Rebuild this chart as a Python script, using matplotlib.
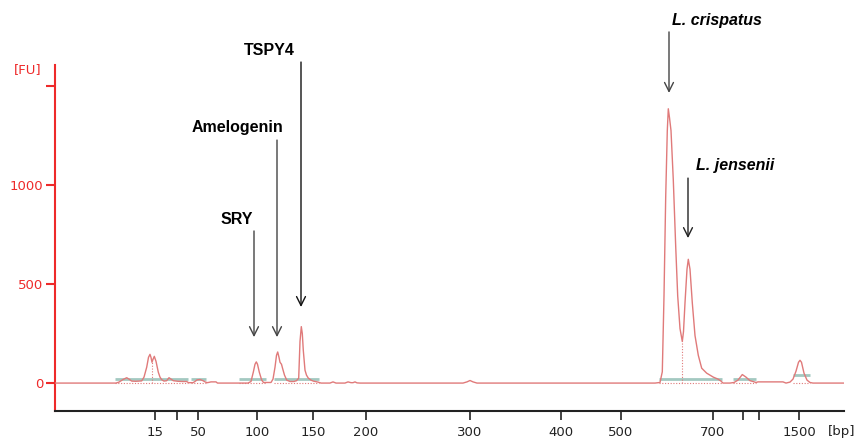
import matplotlib
matplotlib.use("Agg")
import numpy as np
import matplotlib.pyplot as plt

# electropherogram trace: migration position vs fluorescence units
mig_time = [55, 116, 119, 123, 126.7, 129, 131.7, 136, 141.7, 144, 146.7, 148.5, 150, 151, 152, 153,
            154.3, 156, 158.3, 160, 161.7, 164, 166.7, 169, 171, 173.3, 178, 183, 186.7, 188.5,
            193, 195, 197, 200, 203, 205.5, 207.5, 210, 211, 216, 217.5,
            248, 251, 253.3, 255, 256.3, 257.5, 259.3, 261.7, 263.5,
            271, 273, 275, 276.5, 277.7, 279, 280, 281.5, 282.7, 284.5, 286.7, 290,
            294, 296.5, 298.7, 300, 301.3, 302.3, 303.3, 305, 306.5, 308.3, 311, 313.3, 318, 321,
            330, 333, 336, 345, 348, 351, 353, 355, 357, 360,
            463, 467, 470, 473, 477,
            655, 660, 662.3, 664, 665.7, 667.3, 668.3, 669.5, 671, 673.3, 675.7, 677.7, 680, 682.3,
            683.5, 685, 687, 688.3, 690, 692.3, 695, 698.3, 701.7, 706.7, 713.3, 718, 721, 723,
            730, 734, 738, 742.3, 746, 750, 753, 756, 758, 783, 786,
            790, 793, 796, 798.5, 800, 801.5, 804, 807, 810, 813, 844]
fu = [0, 0, 5, 18, 27, 20, 10, 9, 11, 30, 80, 130, 145, 130, 105, 120,
      135, 110, 55, 30, 17, 10, 12, 27, 20, 12, 9, 8, 8, 2,
      2, 8, 16, 18, 12, 5, 2, 5, 6, 6, 0,
      0, 8, 55, 95, 107, 95, 55, 15, 3,
      3, 20, 80, 140, 157, 130, 105, 95, 72, 40, 15, 8,
      8, 12, 25, 210, 285, 250, 165, 65, 40, 25, 15, 10, 5, 0,
      0, 6, 0, 0, 6, 2, 2, 6, 1, 0,
      0, 6, 13, 6, 0,
      0, 3, 57, 440, 940, 1275, 1385, 1340, 1275, 1025, 690, 440, 275, 210,
      260, 405, 575, 625, 575, 405, 240, 140, 75, 50, 30, 20, 10, 0,
      0, 3, 15, 43, 30, 12, 8, 3, 6, 6, 0,
      5, 20, 60, 105, 115, 105, 50, 15, 3, 0, 0]

# peak-detection baselines
base_start = [115, 191.5, 239, 274, 659, 733, 793]
base_end = [188, 206.5, 266.5, 319, 722, 756, 810]
base_level = [19, 19, 19, 19, 23, 21, 43]
split_pos = [152, 682.3]
split_fu = [105, 210]

# size ladder
ladder_pos = [155, 177, 198, 257, 313, 366, 470, 561, 621, 713, 743, 759, 799]
ladder_lbl = ['15', '', '50', '100', '150', '200', '300', '400', '500', '700', '', '', '1500']
fu_ticks = [0, 500, 1000, 1500]
fu_lbl = ['0', '500', '1000', '']

RED = '#ee2a2a'
TRACE = '#e07a7a'

fig = plt.figure(figsize=(8.6, 4.41), dpi=100)
ax = fig.add_axes([55/860, 1-411/441, 789/860, 346/441])

for x0, x1, lv in zip(base_start, base_end, base_level):
    ax.plot([x0, x1], [lv, lv], color='#a3c9c1', lw=2, solid_capstyle='butt', zorder=2)
    ax.plot([x0, x1], [2, 2], color=TRACE, lw=0.8, ls=(0, (1, 1.5)), zorder=2)
for xs, h in zip(split_pos, split_fu):
    ax.plot([xs, xs], [2, h], color=TRACE, lw=0.8, ls=(0, (1, 1.5)), zorder=2)

ax.plot(mig_time, fu, color=TRACE, lw=1.0, zorder=3)

ax.set_xlim(55, 844)
ax.set_ylim(-141, 1606)
ax.spines['top'].set_visible(False)
ax.spines['right'].set_visible(False)
ax.spines['left'].set_color(RED)
ax.spines['left'].set_linewidth(1.5)
ax.spines['bottom'].set_color('#222222')
ax.spines['bottom'].set_linewidth(1.5)

ax.set_yticks(fu_ticks)
ax.set_yticklabels(fu_lbl)
ax.tick_params(axis='y', colors=RED, length=6.5, width=1.5, labelsize=9.5, pad=2)
ax.set_xticks(ladder_pos)
ax.set_xticklabels(ladder_lbl)
ax.tick_params(axis='x', colors='#222222', length=6.5, width=1.2, labelsize=9.5, pad=4)

fig.text(28/860, 1-70/441, '[FU]', color=RED, fontsize=9.5, ha='center', va='center')
fig.text(842/860, 1-432/441, '[bp]', color='#222222', fontsize=9.5, ha='center', va='center')

# peak annotations
lab_font = dict(family='Liberation Sans', weight='bold', fontsize=11.5, ha='center', va='center')
notes = [
    ('SRY', 237, 828, 254, 768, 232, 'normal', '#444444'),
    ('Amelogenin', 237, 1288, 277, 1227, 232, 'normal', '#444444'),
    ('TSPY4', 269, 1677, 301, 1621, 384, 'normal', '#111111'),
    ('L. crispatus', 717, 1833, 669, 1773, 1465, 'italic', '#444444'),
    ('L. jensenii', 735, 1101, 688, 1035, 732, 'italic', '#222222'),
]
for txt, tx, ty, ax_x, y0, y1, sty, col in notes:
    ax.text(tx, ty, txt, style=sty, clip_on=False, **lab_font)
    ax.annotate('', xy=(ax_x, y1), xytext=(ax_x, y0), annotation_clip=False,
                arrowprops=dict(arrowstyle='->', color=col, lw=1.0, mutation_scale=16,
                                shrinkA=0, shrinkB=0))

fig.savefig('out.png', dpi=100)
